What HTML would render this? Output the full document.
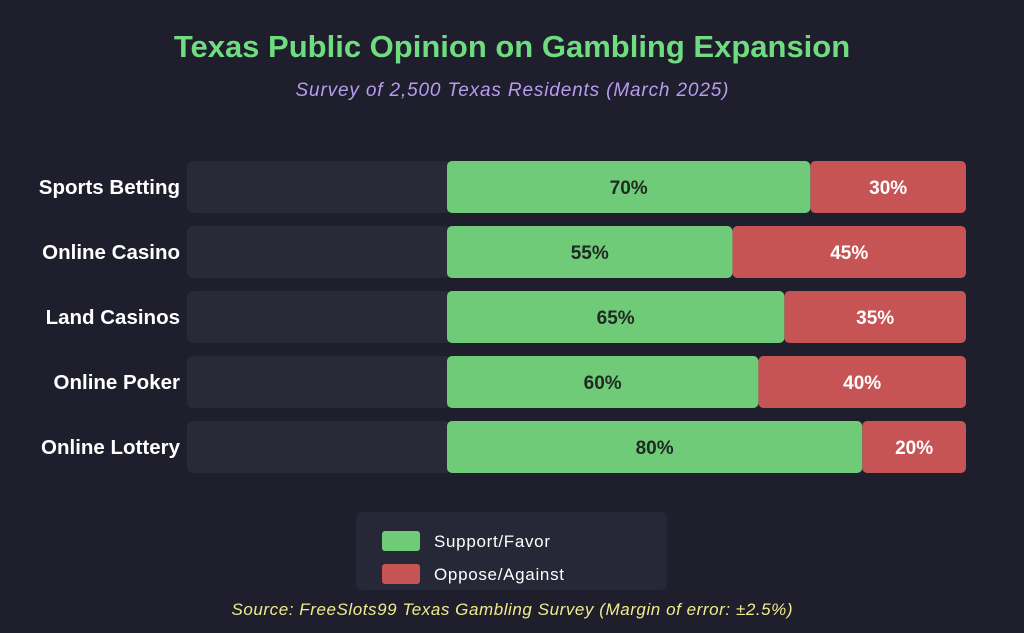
<!DOCTYPE html>
<html><head><meta charset="utf-8"><style>
html,body{margin:0;padding:0;background:#1e1e2c;width:1024px;height:633px;overflow:hidden}
svg{display:block;font-family:"Liberation Sans",Arial,sans-serif}
</style></head><body>
<svg id="chart" width="1024" height="633" viewBox="0 0 1024 633">
<rect width="1024" height="633" fill="#1e1e2c"/>
<text x="512" y="57" text-anchor="middle" font-size="31" font-weight="bold" fill="#6fdc80">Texas Public Opinion on Gambling Expansion</text>
<text x="512" y="96" text-anchor="middle" font-size="19" font-style="italic" fill="#b79cf0" textLength="433">Survey of 2,500 Texas Residents (March 2025)</text>
<g id="bars"></g>
<g>
<rect x="356" y="512" width="311" height="78" rx="6" fill="#262837"/>
<rect x="382" y="531" width="38" height="20" rx="3" fill="#6fcb78"/>
<text x="434" y="547" font-size="17" fill="#ffffff" textLength="116">Support/Favor</text>
<rect x="382" y="564" width="38" height="20" rx="3" fill="#c75454"/>
<text x="434" y="580" font-size="17" fill="#ffffff" textLength="130">Oppose/Against</text>
</g>
<text x="512" y="615" text-anchor="middle" font-size="17" font-style="italic" fill="#f0ec8c" textLength="561">Source: FreeSlots99 Texas Gambling Survey (Margin of error: ±2.5%)</text>
</svg>
<script>
const categories = ["Sports Betting","Online Casino","Land Casinos","Online Poker","Online Lottery"];
const supportValues = [70,55,65,60,80];
const opposeValues = [30,45,35,40,20];
const NS="http://www.w3.org/2000/svg";
const g=document.getElementById('bars');
const x0=447, x1=966, trackX=187, rowTop=161, rowStep=65, barH=52;
const xScale=v=>x0+(x1-x0)*v/100;
function mk(tag,attrs){const e=document.createElementNS(NS,tag);for(const k in attrs)e.setAttribute(k,attrs[k]);return e;}
categories.forEach((c,i)=>{
  const y=rowTop+i*rowStep;
  const tr=mk('rect',{x:trackX,y:y,width:x0-trackX+4,height:barH,rx:6,fill:'#282a36'});
  
  
  g.appendChild(tr);
  const lab=mk('text',{x:180,y:y+barH/2+7,'text-anchor':'end','font-size':20.5,'font-weight':'bold',fill:'#ffffff'});
  lab.textContent=c;
  
  
  g.appendChild(lab);
  const sEnd=xScale(supportValues[i]);
  const oEnd=xScale(supportValues[i]+opposeValues[i]);
  const r=mk('rect',{x:sEnd,y:y,width:oEnd-sEnd,height:barH,rx:5,fill:'#c75454'});
  
  
  g.appendChild(r);
  const s=mk('rect',{x:x0,y:y,width:sEnd-x0,height:barH,rx:5,fill:'#6fcb78'});
  
  
  g.appendChild(s);
  const st=mk('text',{x:(x0+sEnd)/2,y:y+barH/2+7,'text-anchor':'middle','font-size':19,'font-weight':'bold',fill:'#1e2a22'});
  st.textContent=supportValues[i]+'%';
  
  
  g.appendChild(st);
  const ot=mk('text',{x:(sEnd+oEnd)/2,y:y+barH/2+7,'text-anchor':'middle','font-size':19,'font-weight':'bold',fill:'#ffffff'});
  ot.textContent=opposeValues[i]+'%';
  
  
  g.appendChild(ot);
});
</script>
</body></html>
